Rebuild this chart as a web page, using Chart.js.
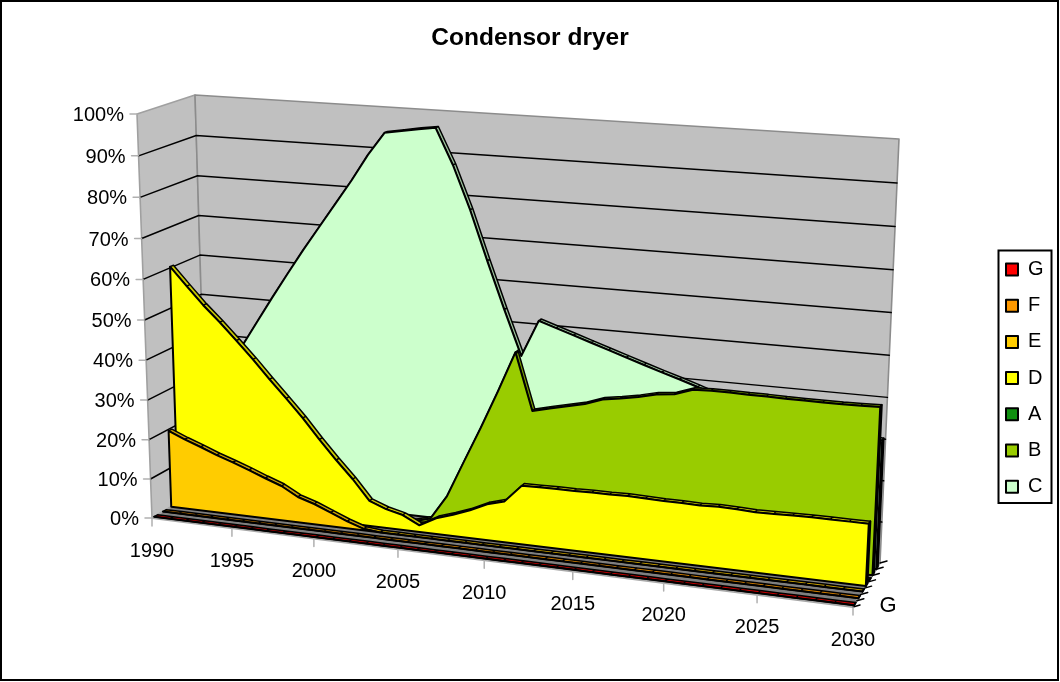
<!DOCTYPE html>
<html><head><meta charset="utf-8">
<style>html,body{margin:0;padding:0;background:#fff}canvas{display:block}</style>
<script src="https://cdn.jsdelivr.net/npm/chart.js@4"></script>
</head><body><canvas id="c" width="1060" height="682"></canvas>
<script>
const years=[1990,1991,1992,1993,1994,1995,1996,1997,1998,1999,2000,2001,2002,2003,2004,2005,2006,2007,2008,2009,2010,2011,2012,2013,2014,2015,2016,2017,2018,2019,2020,2021,2022,2023,2024,2025,2026,2027,2028,2029,2030];
const yearTicks=[1990,1995,2000,2005,2010,2015,2020,2025,2030];
const percentTicks=[0,10,20,30,40,50,60,70,80,90,100];
const seriesG=[0,0,0,0,0,0,0,0,0,0,0,0,0,0,0,0,0,0,0,0,0,0,0,0,0,0,0,0,0,0,0,0,0,0,0,0,0,0,0,0,0];
const seriesF=[0,0,0,0,0,0,0,0,0,0,0,0,0,0,0,0,0,0,0,0,0,0,0,0,0,0,0,0,0,0,0,0,0,0,0,0,0,0,0,0,0];
const seriesE=[19.6,17.9,16.4,14.8,13.4,11.9,10.3,8.8,6.5,5.2,3.5,1.8,0.4,0,0,0,0,0,0,0,0,0,0,0,0,0,0,0,0,0,0,0,0,0,0,0,0,0,0,0,0];
const seriesD=[60.3,55.8,51.4,47.5,43.3,39,34.4,30,25.5,20.5,15.8,11.4,6.4,4.8,3.8,1.7,4,5.4,7,9,10.2,14.6,14.7,14.8,14.8,14.9,14.9,15,14.9,14.8,14.8,14.7,14.9,14.8,14.6,14.7,14.8,14.9,14.9,14.9,14.9];
const seriesA=[0,0,0,0,0,0,0,0,0,0,0,0,0,0,0,0,0,0,0,0,0,0,0,0,0,0,0,0,0,0,0,0,0,0,0,0,0,0,0,0,0];
const seriesB=[0,0,0,0,0,0,0,0,0,0,0,0,0,0,0,1.2,7.4,16.5,25.5,35,45,31,32,33,34,35.5,36.2,37,38,38.5,40,40.2,40.2,40.1,40.1,40,40,40,40,40.1,40.2];
const seriesC=[17,24,31,38.6,45.2,51.8,58.2,64.5,70.5,76.5,82.5,89,94.6,95.3,96,96.6,88,77.5,65.5,54,43,52,50.6,49.2,47.8,46.4,45,43.6,42.2,40.9,39.5,38,37,36,35,34,33,32.5,32,31.5,31];
const seriesNames=['G','F','E','D','A','B','C'];
const seriesValues=[seriesG,seriesF,seriesE,seriesD,seriesA,seriesB,seriesC];

const faceColors=['#ff0000','#ff9900','#ffcc00','#ffff00','#109010','#99cc00','#ccffcc'];
const topColors=['#c80000','#c87800','#c89f00','#c8c800','#006000','#739900','#99bf99'];
const depths=[0.04,0.20,0.35,0.475,0.60,0.72,0.86];
const thickness=0.06;
const corners={fbl:[152,518],fbr:[853,607],ftl:[137,114],ftr:[875,167],bbl:[207,486],bbr:[880,563],btl:[195,95],btr:[899,139]};
const uK=1.11,vM=1.04;

function mix(a,b,t){return [a[0]+(b[0]-a[0])*t,a[1]+(b[1]-a[1])*t];}
function project(year,pct,w){
  const n=(year-years[0])/(years[years.length-1]-years[0]);
  const u=n/(n+uK*(1-n));
  const r=pct/100;
  const v=r/(r+vM*(1-r));
  const c=corners;
  const front=mix(mix(c.fbl,c.fbr,u),mix(c.ftl,c.ftr,u),v);
  const back=mix(mix(c.bbl,c.bbr,u),mix(c.btl,c.btr,u),v);
  const p=mix(front,back,w);
  return {x:p[0],y:p[1]};
}
function shape(points,o){
  return Object.assign({data:points,showLine:true,tension:0,pointRadius:0,pointHoverRadius:0,
    borderJoinStyle:'round',borderCapStyle:'round',fill:false,borderWidth:0,borderColor:'rgba(0,0,0,0)',backgroundColor:'rgba(0,0,0,0)'},o);
}
const datasets=[];
seriesValues.forEach((vals,i)=>{
  const w1=depths[i],w2=w1+thickness,last=years[years.length-1],first=years[0];
  const f=years.map((y,k)=>project(y,vals[k],w1));
  const b=years.map((y,k)=>project(y,vals[k],w2));
  datasets.push(shape([project(first,0,w1),...f,project(last,0,w1),project(first,0,w1)],
    {label:seriesNames[i],backgroundColor:faceColors[i],borderColor:'#000',borderWidth:2,fill:'shape'}));
  datasets.push(shape([project(last,0,w1),f[f.length-1],b[b.length-1],project(last,0,w2),project(last,0,w1)],
    {backgroundColor:'#000',borderColor:'#000',borderWidth:2,fill:'shape'}));
  const zig=[];
  years.forEach((y,k)=>{ if(k%2===0){zig.push(f[k],b[k]);} else {zig.push(b[k],f[k]);} });
  datasets.push(shape(zig.concat(f.slice().reverse(),b),{borderColor:'#000',borderWidth:1.5}));
  datasets.push(shape([...f,...b.slice().reverse(),f[0]],{backgroundColor:topColors[i],fill:'shape'}));
});
yearTicks.forEach(y=>{const p=project(y,0,0);datasets.push(shape([p,{x:p.x,y:p.y+8}],{borderColor:'#b0b0b0',borderWidth:1.5}));});
percentTicks.forEach(t=>{const p=project(years[0],t,0);datasets.push(shape([p,{x:p.x-7,y:p.y}],{borderColor:'#b0b0b0',borderWidth:1.5}));});
for(let i=0;i<=7;i++){const p=project(2030,0,i/7);datasets.push(shape([p,{x:p.x+7,y:p.y-2}],{borderColor:'#000',borderWidth:1.5}));}
percentTicks.slice(1,-1).forEach(t=>{
  datasets.push(shape([project(1990,t,0),project(1990,t,1),project(2030,t,1)],{borderColor:'#000',borderWidth:1.5}));
});
datasets.push(shape([project(1990,0,0),project(2030,0,0),project(2030,0,1),project(1990,0,1),project(1990,0,0)],
  {backgroundColor:'#7f7f7f',borderColor:'#a8a8a8',borderWidth:2,fill:'shape'}));
datasets.push(shape([project(1990,0,1),project(2030,0,1),project(2030,100,1),project(1990,100,1),project(1990,0,1)],
  {backgroundColor:'#c0c0c0',borderColor:'#8c8c8c',borderWidth:1.6,fill:'shape'}));
datasets.push(shape([project(1990,0,0),project(1990,0,1),project(1990,100,1),project(1990,100,0),project(1990,0,0)],
  {backgroundColor:'#c0c0c0',borderColor:'#a0a0a0',borderWidth:1.6,fill:'shape'}));

const full3d={
  id:'full3d',
  beforeDraw(chart){
    const c=chart.ctx;c.save();
    c.fillStyle='#fff';c.fillRect(0,0,chart.width,chart.height);
    c.strokeStyle='#000';c.lineWidth=2;c.strokeRect(1,1,1057,679);
    c.restore();
  },
  afterLayout(chart){
    const x=chart.scales.x,y=chart.scales.y,W=chart.width,H=chart.height;
    x.left=0;x.right=W;x.width=W;x.configure();
    y.top=0;y.bottom=H;y.height=H;y.configure();
    chart.chartArea={left:0,top:0,right:W,bottom:H,width:W,height:H};
    const l=chart.legend,lw=l.right-l.left,lh=l.bottom-l.top;
    l.left=989.8;l.right=l.left+lw;l.top=243.3;l.bottom=l.top+lh;
    l.adjustHitBoxes&&l.adjustHitBoxes();
  },
  afterDraw(chart){
    const c=chart.ctx;c.save();
    c.strokeStyle='#000';c.lineWidth=2;c.strokeRect(998.5,250.5,53,252.5);
    c.fillStyle='#000';c.font='20px "Liberation Sans", Arial, sans-serif';
    c.textBaseline='middle';
    c.textAlign='right';
    percentTicks.forEach(t=>{const p=project(1990,t,0);c.fillText(t+'%',p.x-13,p.y+1.5);});
    c.textAlign='center';
    yearTicks.forEach(y=>{const p=project(y,0,0);c.fillText(String(y),p.x,p.y+33);});
    c.font='22px "Liberation Sans", Arial, sans-serif';
    c.fillText('G',888,606);
    c.restore();
  }
};

new Chart(document.getElementById('c'),{
  type:'scatter',
  data:{datasets},
  plugins:[full3d],
  options:{
    responsive:false,animation:false,
    layout:{padding:0},
    scales:{
      x:{type:'linear',display:false,min:0,max:1060},
      y:{type:'linear',display:false,min:0,max:682,reverse:true}
    },
    plugins:{
      tooltip:{enabled:false},
      title:{display:true,text:'Condensor dryer',color:'#000',align:'center',
        font:{family:'"Liberation Sans", Arial, sans-serif',size:24.5,weight:'bold'},padding:{top:24,bottom:10}},
      legend:{display:true,position:'right',align:'start',
        labels:{boxWidth:12,boxHeight:12,padding:16.2,color:'#000',
          font:{family:'"Liberation Sans", Arial, sans-serif',size:20},
          filter:item=>!!item.text}}
    }
  }
});
</script></body></html>
